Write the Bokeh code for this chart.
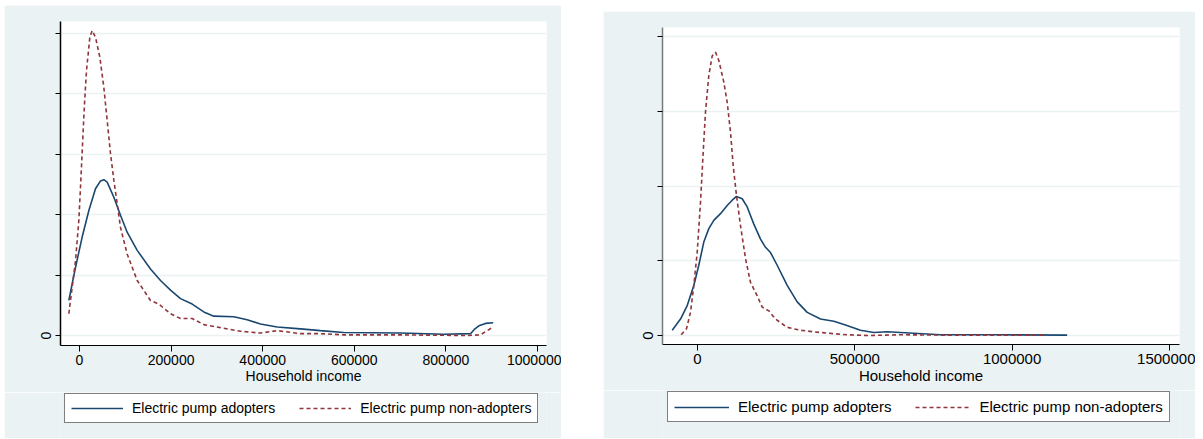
from bokeh.plotting import figure
from bokeh.layouts import row, column
from bokeh.models import (Range1d, FixedTicker, BasicTickFormatter, Legend,
                          LegendItem, Spacer)
from bokeh.embed import file_html
from bokeh.resources import INLINE

# ---------------- data ----------------
left_adopt_x = [-23300, -8700, 5800, 20400, 34900, 45800, 53100, 60400, 75000,
                89500, 104000, 126000, 155000, 176900, 198700, 220500, 246000,
                271400, 293200, 337000, 366000, 395000, 431600, 482500, 526000,
                577000, 700900, 795400, 853700, 862000, 872000, 886500, 903300]
left_adopt_y = [0.58, 1.13, 1.63, 2.07, 2.43, 2.56, 2.58, 2.54, 2.29,
                1.99, 1.71, 1.41, 1.10, 0.91, 0.75, 0.61, 0.52,
                0.39, 0.32, 0.31, 0.26, 0.19, 0.14, 0.11, 0.08,
                0.05, 0.04, 0.02, 0.03, 0.10, 0.16, 0.20, 0.21]

left_non_x = [-23300, -8700, -1500, 2200, 8000, 10900, 15300, 22600, 27700,
              34900, 44400, 53100, 60400, 67700, 75000, 82300, 89500, 104000,
              126000, 155000, 173000, 198700, 220500, 246000, 271400, 307800,
              351500, 395000, 431600, 482500, 526000, 577000, 700000, 846000,
              875000, 901000]
left_non_y = [0.36, 1.24, 1.90, 2.46, 3.39, 3.84, 4.39, 4.94, 5.05,
              4.94, 4.61, 4.11, 3.56, 3.01, 2.57, 2.18, 1.79, 1.35,
              0.91, 0.58, 0.52, 0.36, 0.28, 0.28, 0.18, 0.13,
              0.07, 0.04, 0.08, 0.03, 0.03, 0.01, 0.01, 0.0,
              0.01, 0.13]

right_adopt_x = [-80400, -54000, -32700, -11700, 4100, 20000, 36000, 51800,
                 73100, 94400, 110300, 124000, 142100, 158000, 179000, 200300,
                 216100, 232000, 253300, 285100, 316900, 348700, 391000,
                 433300, 470400, 518100, 560400, 602900, 645300, 772000,
                 950000, 1175000]
right_adopt_y = [0.07, 0.22, 0.40, 0.67, 0.94, 1.25, 1.43, 1.54,
                 1.63, 1.74, 1.81, 1.86, 1.83, 1.72, 1.49, 1.29,
                 1.18, 1.11, 0.94, 0.67, 0.45, 0.31, 0.22,
                 0.19, 0.14, 0.07, 0.04, 0.05, 0.04, 0.01,
                 0.01, 0.005]

right_non_x = [-51900, -35000, -22300, -11700, -1000, 9500, 18100, 25400,
               36000, 46700, 57200, 67700, 83600, 94400, 104900, 113500,
               124000, 136700, 152600, 168500, 189700, 205600, 226700,
               247900, 285100, 327400, 391000, 475800, 539400, 645000,
               800000, 1100000]
right_non_y = [0.01, 0.09, 0.31, 0.67, 1.11, 1.78, 2.45, 2.99,
               3.48, 3.74, 3.79, 3.68, 3.39, 3.12, 2.72, 2.27,
               1.87, 1.47, 1.03, 0.71, 0.53, 0.38, 0.33,
               0.22, 0.11, 0.07, 0.04, 0.01, 0.0, 0.01,
               0.005, 0.005]

left_xticks = [0, 200000, 400000, 600000, 800000, 1000000]
left_yticks = [0, 1, 2, 3, 4, 5]
right_xticks = [0, 500000, 1000000, 1500000]
right_yticks = [0, 1, 2, 3, 4]

series_labels = ["Electric pump adopters", "Electric pump non-adopters"]
x_title = "Household income"

BG = "#eaf2f3"
NAVY = "#1a476f"
MAROON = "#90353b"
FONT = "Liberation Sans"
DASH = "4 3"
NAN = float("nan")


def make_panel(width, height, xr, yr, xticks, yticks, ax, ay, nx, ny, fs,
               borders, yaxis_color):
    p = figure(width=width, height=height, x_range=Range1d(*xr),
               y_range=Range1d(*yr), output_backend="svg",
               toolbar_location=None, border_fill_color=BG,
               background_fill_color="white", outline_line_color=None,
               min_border_left=borders[0], min_border_right=borders[1],
               min_border_top=borders[2], min_border_bottom=borders[3])
    p.line(ax, ay, line_color=NAVY, line_width=1.6)
    p.line(nx, ny, line_color=MAROON, line_width=1.6, line_dash=DASH)

    xt = FixedTicker(ticks=xticks)
    yt = FixedTicker(ticks=yticks)
    p.xaxis.ticker = xt
    p.yaxis.ticker = yt
    p.xgrid.visible = False
    p.ygrid.ticker = yt
    p.ygrid.grid_line_color = BG
    p.ygrid.grid_line_width = 1.6

    xa = p.xaxis[0]
    xa.formatter = BasicTickFormatter(use_scientific=False)
    xa.axis_label = x_title
    xa.axis_label_text_font = FONT
    xa.axis_label_text_font_size = f"{fs}px"
    xa.axis_label_text_font_style = "normal"
    xa.axis_label_text_color = "black"
    xa.axis_label_standoff = 0
    xa.major_label_text_font = FONT
    xa.major_label_text_font_size = f"{fs}px"
    xa.major_label_text_color = "black"
    xa.major_label_standoff = 3
    xa.major_tick_out = 6
    xa.major_tick_in = 0
    xa.minor_tick_line_color = None
    xa.axis_line_color = "black"
    xa.major_tick_line_color = "black"

    ya = p.yaxis[0]
    ya.major_label_overrides = {t: "" for t in yticks if t != 0}
    ya.major_label_orientation = "vertical"
    ya.major_label_text_font = FONT
    ya.major_label_text_font_size = f"{fs}px"
    ya.major_label_text_color = "black"
    ya.major_label_standoff = 4
    ya.major_tick_out = 5
    ya.major_tick_in = 0
    ya.minor_tick_line_color = None
    ya.axis_line_color = yaxis_color
    ya.axis_line_width = 1.5
    ya.major_tick_line_color = "black"
    ya.major_tick_line_width = 1.2
    return p


def make_legend(width, height, fs, loc, leg):
    q = figure(width=width, height=height, x_range=Range1d(0, 1),
               y_range=Range1d(0, 1), output_backend="svg",
               toolbar_location=None, x_axis_location=None,
               y_axis_location=None, border_fill_color=BG,
               background_fill_color=BG, outline_line_color=None,
               min_border=0)
    q.grid.visible = False
    # legend-only renderers (no visible data)
    r1 = q.line([NAN, NAN], [NAN, NAN], line_color=NAVY, line_width=1.6)
    r2 = q.line([NAN, NAN], [NAN, NAN], line_color=MAROON, line_width=1.6,
                line_dash=DASH)
    legend = Legend(items=[LegendItem(label=series_labels[0], renderers=[r1]),
                           LegendItem(label=series_labels[1], renderers=[r2])],
                    location=loc, orientation="horizontal",
                    border_line_color="black", border_line_width=1,
                    background_fill_color="white", background_fill_alpha=1.0,
                    label_text_font=FONT, label_text_font_size=f"{fs}px",
                    label_text_color="black",
                    glyph_width=leg[0], glyph_height=14, label_height=14,
                    label_standoff=leg[1], spacing=leg[2], padding=6,
                    margin=0)
    q.add_layout(legend)
    return q


p1 = make_panel(557, 387, (-41500, 1019650), (-0.166, 5.2),
                left_xticks, left_yticks,
                left_adopt_x, left_adopt_y, left_non_x, left_non_y, 14,
                (56, 15, 16, 47), "black")
l1 = make_legend(557, 46, 14, (4, 15), (52, 9, 24))

p2 = make_panel(592, 379, (-111250, 1532085), (-0.12, 4.12),
                right_xticks, right_yticks,
                right_adopt_x, right_adopt_y, right_non_x, right_non_y, 15,
                (59, 16, 16, 46), "#7a7a7a")
l2 = make_legend(592, 48, 15, (5, 16), (55, 9, 24))

c1 = column(p1, l1, spacing=0)
c2 = column(p2, l2, spacing=0, margin=(6, 0, 0, 0))

layout = row(c1, Spacer(width=42, height=10), c2, margin=(5, 0, 0, 4))

open("out.html", "w").write(file_html(layout, INLINE))
